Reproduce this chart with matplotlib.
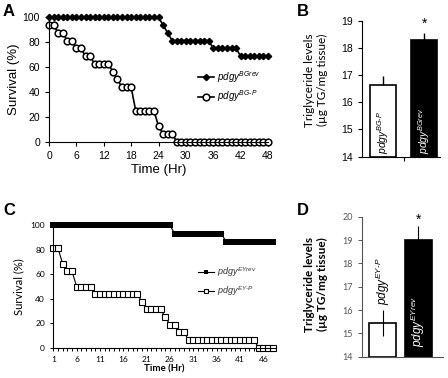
import numpy as np
import matplotlib.pyplot as plt

plt.rcParams['font.family'] = ['Liberation Sans', 'DejaVu Sans']
plt.rcParams['mathtext.fontset'] = 'custom'
plt.rcParams['mathtext.rm'] = 'Liberation Sans'
plt.rcParams['mathtext.it'] = 'Liberation Sans:italic'
plt.rcParams['mathtext.bf'] = 'Liberation Sans:bold'

# Panel A: survival over 48 h
hours_a = np.arange(0, 49)
surv_bgrev = [100] * 25 + [93.75, 87.5] + [81.25] * 9 + [75] * 6 + [68.75] * 7
surv_bgp = [93.75, 93.75, 87.5, 87.5, 81.25, 81.25, 75, 75, 68.75, 68.75,
            62.5, 62.5, 62.5, 62.5, 56.25, 50, 43.75, 43.75, 43.75,
            25, 25, 25, 25, 25, 12.5, 6.25, 6.25, 6.25] + [0] * 21

# Panel B: triglyceride levels
tg_b = [16.65, 18.3]
tg_b_err = [0.3, 0.25]
labels_b = [r'$pdgy^{BG\text{-}P}$', r'$pdgy^{BGrev}$']

# Panel C: survival, hours 1..48
hours_c = np.arange(1, 49)
surv_eyrev = [100] * 26 + [93.3] * 11 + [86.7] * 11
surv_eyp = ([81.25, 81.25, 68.75, 62.5, 62.5] + [50] * 4 + [43.75] * 10 +
            [37.5] + [31.25] * 4 + [25] + [18.75] * 2 + [12.5] * 2 +
            [6.25] * 15 + [0] * 4)

# Panel D: triglyceride levels
tg_d = [15.45, 19.0]
tg_d_err = [0.55, 0.6]
labels_d = [r'$pdgy^{EY\text{-}P}$', r'$pdgy^{EYrev}$']

fig = plt.figure(figsize=(4.48, 3.78), dpi=100)
W, H = 448, 378


def add_ax(left, right, top, bottom):
    return fig.add_axes([left / W, 1 - bottom / H, (right - left) / W, (bottom - top) / H])


# ---------- A ----------
ax = add_ax(49, 268, 17.3, 141.7)
ax.plot(hours_a, surv_bgrev, '-', color='black', lw=1.2, marker='D', ms=3.2,
        mfc='black', clip_on=False, label=r'$pdgy^{BGrev}$')
ax.plot(hours_a, surv_bgp, '-', color='black', lw=1.2, marker='o', ms=4.8,
        mfc='white', mew=1.1, clip_on=False, label=r'$pdgy^{BG\text{-}P}$')
ax.set_xlim(0, 48)
ax.set_ylim(0, 100)
ax.set_xticks(np.arange(0, 49, 6))
ax.set_yticks(np.arange(0, 101, 20))
ax.tick_params(labelsize=7.5, length=3, width=0.8)
for s in ['top', 'right']:
    ax.spines[s].set_visible(False)
ax.set_xlabel('Time (Hr)', fontsize=9.5, labelpad=2)
ax.set_ylabel('Survival (%)', fontsize=9.5, labelpad=2)
ax.legend(loc='upper left', bbox_to_anchor=(198 / W, 1 - 69 / H), bbox_transform=fig.transFigure,
          frameon=False, fontsize=7, handlelength=1.6, handletextpad=0.4, labelspacing=0.4,
          borderaxespad=0, borderpad=0)

# ---------- B ----------
ax = add_ax(361.7, 440, 20.7, 156.7)
ax.bar([0, 1], np.array(tg_b) - 14, bottom=14, width=0.63, color=['white', 'black'],
       edgecolor='black', lw=1.2)
ax.errorbar([0, 1], tg_b, yerr=[[0, 0], tg_b_err], fmt='none', ecolor='black', elinewidth=1,
            capsize=0)
ax.set_xlim(-0.52, 1.38)
ax.set_ylim(14, 19)
ax.set_xticks([0.5])
ax.set_xticklabels([])
ax.set_yticks(np.arange(14, 20))
ax.tick_params(axis='y', labelsize=7.5, length=3, width=0.8)
ax.tick_params(axis='x', length=3, width=0.8)
for s in ['top', 'right']:
    ax.spines[s].set_visible(False)
ax.text(0, 14.1, labels_b[0], rotation=90, ha='center', va='bottom', fontsize=7.5, color='black')
ax.text(1, 14.1, labels_b[1], rotation=90, ha='center', va='bottom', fontsize=7.5, color='white')
ax.text(1, 18.9, '*', ha='center', va='center', fontsize=10)
fig.text(316 / W, 1 - 80 / H, 'Triglyceride levels\n(µg TG/mg tissue)', rotation=90,
         ha='center', va='center', fontsize=8.5, family=['Lato', 'DejaVu Sans'], linespacing=1.3)

# ---------- C ----------
ax = add_ax(53.3, 275, 225.3, 347.7)
ax.plot(hours_c, surv_eyrev, '-', color='black', lw=0.8, marker='s', ms=3.8,
        mfc='black', mew=0, clip_on=False, label=r'$pdgy^{EYrev}$')
ax.plot(hours_c, surv_eyp, '-', color='black', lw=0.8, marker='s', ms=3.8,
        mfc='white', mew=0.8, clip_on=False, label=r'$pdgy^{EY\text{-}P}$')
ax.set_xlim(1, 48.5)
ax.set_ylim(0, 100)
ax.set_xticks(np.arange(1, 48, 5))
ax.set_xticks(np.arange(1, 49), minor=True)
ax.set_yticks(np.arange(0, 101, 20))
ax.tick_params(labelsize=6, length=2.5, width=0.7)
ax.tick_params(which='minor', length=2, width=0.7)
for t in ax.get_xticklabels() + ax.get_yticklabels():
    t.set_family(['Lato', 'DejaVu Sans'])
for s in ['top', 'right']:
    ax.spines[s].set_visible(False)
ax.set_xlabel('Time (Hr)', fontsize=7, fontweight='bold', labelpad=1,
              family=['Lato', 'DejaVu Sans'])
ax.set_ylabel('Survival (%)', fontsize=8, labelpad=4, family=['Lato', 'DejaVu Sans'])
leg = ax.legend(loc='upper left', bbox_to_anchor=(198 / W, 1 - 265 / H),
                bbox_transform=fig.transFigure, frameon=False, fontsize=6.5,
                handlelength=1.8, handletextpad=0.3, labelspacing=0.6, borderaxespad=0,
                borderpad=0, markerscale=0.6)
for t in leg.get_texts():
    t.set_color('#333333')

# ---------- D ----------
ax = add_ax(361.7, 443, 216.7, 356.7)
ax.bar([0, 1], np.array(tg_d) - 14, bottom=14, width=0.76, color=['white', 'black'],
       edgecolor='black', lw=1.2)
ax.errorbar([0, 1], tg_d, yerr=[[tg_d_err[0], 0], tg_d_err], fmt='none', ecolor='black',
            elinewidth=0.8, capsize=0)
ax.set_xlim(-0.59, 1.69)
ax.set_ylim(14, 20)
ax.set_xticks([])
ax.set_yticks(np.arange(14, 21))
ax.tick_params(axis='y', labelsize=6.5, length=3, width=0.7, colors='#555555')
for t in ax.get_yticklabels():
    t.set_family(['Lato', 'DejaVu Sans'])
for s in ['top', 'right']:
    ax.spines[s].set_visible(False)
for s in ['left', 'bottom']:
    ax.spines[s].set_color('#555555')
ax.text(0, 16.2, labels_d[0], rotation=90, ha='center', va='bottom', fontsize=8.5, color='black')
ax.text(1, 14.4, labels_d[1], rotation=90, ha='center', va='bottom', fontsize=8.5, color='white')
ax.text(1, 19.85, '*', ha='center', va='center', fontsize=10)
fig.text(316 / W, 1 - 284 / H, 'Triglyceride levels\n(µg TG/mg tissue)', rotation=90,
         ha='center', va='center', fontsize=8.5, family=['Lato', 'DejaVu Sans'],
         fontweight='bold', linespacing=1.3)

# panel letters
for letter, x, y in [('A', 3, 4), ('B', 297, 4), ('C', 3, 203), ('D', 297, 203)]:
    fig.text(x / W, 1 - y / H, letter, fontsize=12, fontweight='bold', va='top', ha='left')

fig.savefig('out.png', dpi=100)
